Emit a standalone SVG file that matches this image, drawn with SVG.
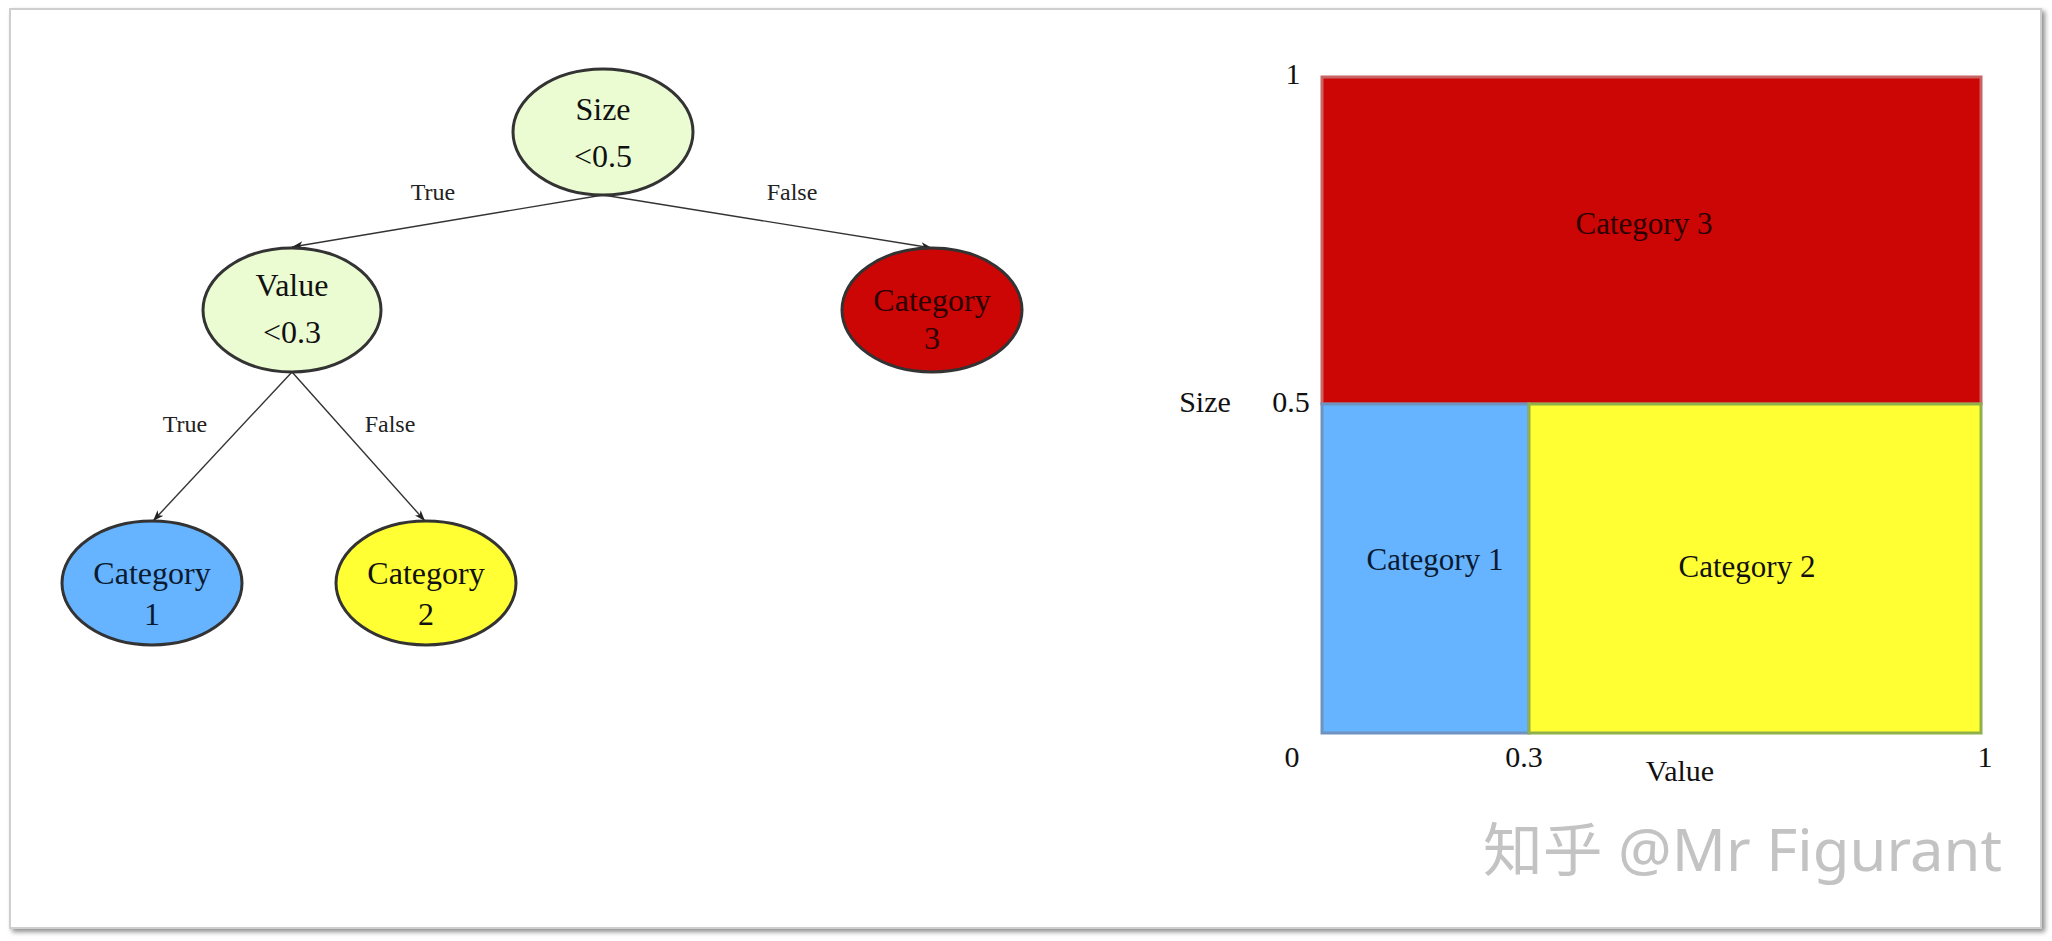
<svg xmlns="http://www.w3.org/2000/svg" width="2052" height="941" viewBox="0 0 2052 941">
  <defs>
    <marker id="arr" markerUnits="userSpaceOnUse" markerWidth="12" markerHeight="9" refX="11" refY="4.5" orient="auto">
      <path d="M0,0.5 L11,4.5 L0,8.5 L3,4.5 z" fill="#222"/>
    </marker>
    <filter id="shadow" x="-2%" y="-2%" width="104%" height="104%">
      <feGaussianBlur in="SourceAlpha" stdDeviation="2.5"/>
      <feOffset dx="3" dy="3" result="b"/>
      <feComponentTransfer><feFuncA type="linear" slope="0.45"/></feComponentTransfer>
      <feMerge><feMergeNode/><feMergeNode in="SourceGraphic"/></feMerge>
    </filter>
  </defs>
  <style>
    .node { stroke: #333; stroke-width: 3; }
    .t { font-family: "Liberation Serif", "Times New Roman", serif; fill: #111; text-anchor: middle; }
    .nt { font-size: 32px; }
    .lbl { font-size: 24px; fill: #222; }
    .ax { font-size: 30px; }
    .cat { font-size: 31px; }
    .edge { stroke: #333; stroke-width: 1.4; fill: none; marker-end: url(#arr); }
    .wm { font-family: "Noto Sans", "Noto Sans CJK SC", sans-serif; font-size: 58px; fill: #c3c3c3; }
  </style>

  <rect x="0" y="0" width="2052" height="941" fill="#ffffff"/>
  <rect id="frame" x="10" y="9" width="2031" height="919" fill="#ffffff" stroke="#cfcfcf" stroke-width="2" filter="url(#shadow)"/>

  <g id="connectors">
    <line class="edge" x1="603" y1="195" x2="292" y2="247"/>
    <line class="edge" x1="603" y1="195" x2="932" y2="248"/>
    <line class="edge" x1="292" y1="372" x2="153" y2="521"/>
    <line class="edge" x1="292" y1="372" x2="425" y2="521"/>
    <text class="t lbl" x="433" y="200">True</text>
    <text class="t lbl" x="792" y="200">False</text>
    <text class="t lbl" x="185" y="432">True</text>
    <text class="t lbl" x="390" y="432">False</text>
  </g>

  <g id="node-size">
    <ellipse class="node" cx="603" cy="132" rx="90" ry="63" fill="#ebfcd2"/>
    <text class="t nt" x="603" y="120">Size</text>
    <text class="t nt" x="603" y="167">&lt;0.5</text>
  </g>
  <g id="node-value">
    <ellipse class="node" cx="292" cy="310" rx="89" ry="62" fill="#ebfcd2"/>
    <text class="t nt" x="292" y="296">Value</text>
    <text class="t nt" x="292" y="343">&lt;0.3</text>
  </g>
  <g id="node-cat3">
    <ellipse class="node" cx="932" cy="310" rx="90" ry="62" fill="#cc0505" stroke="#3a2020"/>
    <text class="t nt" x="932" y="311" style="fill:#2a0000">Category</text>
    <text class="t nt" x="932" y="349" style="fill:#2a0000">3</text>
  </g>
  <g id="node-cat1">
    <ellipse class="node" cx="152" cy="583" rx="90" ry="62" fill="#66b3ff"/>
    <text class="t nt" x="152" y="584" style="fill:#0a1a30">Category</text>
    <text class="t nt" x="152" y="625" style="fill:#0a1a30">1</text>
  </g>
  <g id="node-cat2">
    <ellipse class="node" cx="426" cy="583" rx="90" ry="62" fill="#ffff33"/>
    <text class="t nt" x="426" y="584">Category</text>
    <text class="t nt" x="426" y="625">2</text>
  </g>

  <g id="plot">
    <rect x="1322" y="77" width="659" height="327" fill="#cc0505" stroke="#c86464" stroke-width="3"/>
    <rect x="1322" y="404" width="207" height="329" fill="#66b3ff" stroke="#6f93c0" stroke-width="3"/>
    <rect x="1529" y="404" width="452" height="329" fill="#ffff33" stroke="#8fb04a" stroke-width="3"/>
    <text class="t cat" x="1644" y="234" style="fill:#2a0000">Category 3</text>
    <text class="t cat" x="1435" y="570" style="fill:#0a1a30">Category 1</text>
    <text class="t cat" x="1747" y="577">Category 2</text>
    <text class="t ax" x="1293" y="84">1</text>
    <text class="t ax" x="1205" y="412">Size</text>
    <text class="t ax" x="1291" y="412">0.5</text>
    <text class="t ax" x="1292" y="767">0</text>
    <text class="t ax" x="1524" y="767">0.3</text>
    <text class="t ax" x="1680" y="781">Value</text>
    <text class="t ax" x="1985" y="767">1</text>
  </g>

  <text class="wm" x="1483" y="871" textLength="519" lengthAdjust="spacingAndGlyphs">知乎 @Mr Figurant</text>
</svg>
